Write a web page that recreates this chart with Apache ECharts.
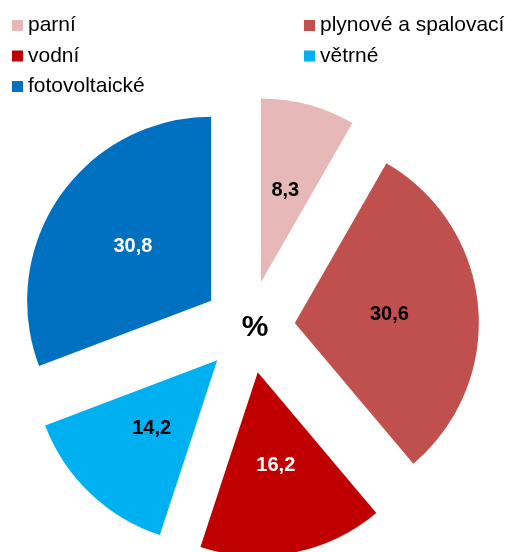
<!DOCTYPE html>
<html>
<head>
<meta charset="utf-8">
<script src="https://cdn.jsdelivr.net/npm/echarts@6/dist/echarts.min.js"></script>
<style>
  html, body { margin: 0; padding: 0; background: #fff; }
  #chart { width: 507px; height: 552px; }
</style>
</head>
<body>
<div id="chart"></div>
<script>
// data
const sources = ['parní', 'plynové a spalovací', 'vodní', 'větrné', 'fotovoltaické'];
const shares = [8.3, 30.6, 16.2, 14.2, 30.8];
const unitLabel = '%';

// styles
const palette = ['#E6B9B8', '#C0504D', '#C00000', '#00B0F0', '#0070C0'];
const labelColors = ['#000', '#000', '#fff', '#000', '#fff'];
const font = '"Liberation Sans", Arial, sans-serif';

const chart = echarts.init(document.getElementById('chart'));

const pieData = sources.map((name, i) => ({
  name: name,
  value: shares[i],
  selected: true,
  itemStyle: { color: palette[i] },
  label: { color: labelColors[i] }
}));

const legendCommon = {
  orient: 'vertical',
  icon: 'rect',
  itemWidth: 11,
  itemHeight: 11,
  itemGap: 9.5,
  selectedMode: false,
  textStyle: { fontFamily: font, fontSize: 21, color: '#000', lineHeight: 21 }
};

chart.setOption({
  animation: false,
  legend: [
    Object.assign({}, legendCommon, { left: 7, top: 10, data: [sources[0], sources[2], sources[4]] }),
    Object.assign({}, legendCommon, { left: 299, top: 10, data: [sources[1], sources[3]] })
  ],
  graphic: [{
    type: 'text',
    x: 255,
    y: 328,
    style: {
      text: unitLabel, font: 'bold 30px ' + font, fill: '#000',
      align: 'center', verticalAlign: 'middle'
    }
  }],
  series: [{
    type: 'pie',
    center: [249, 327],
    radius: 184,
    startAngle: 90,
    clockwise: true,
    selectedMode: 'multiple',
    selectedOffset: 46,
    avoidLabelOverlap: false,
    itemStyle: { borderWidth: 0 },
    label: {
      show: true,
      position: 'inside',
      fontFamily: font,
      fontSize: 20,
      fontWeight: 'bold',
      formatter: p => String(p.value).replace('.', ',')
    },
    labelLine: { show: false },
    emphasis: { disabled: true },
    data: pieData
  }]
});
</script>
</body>
</html>
